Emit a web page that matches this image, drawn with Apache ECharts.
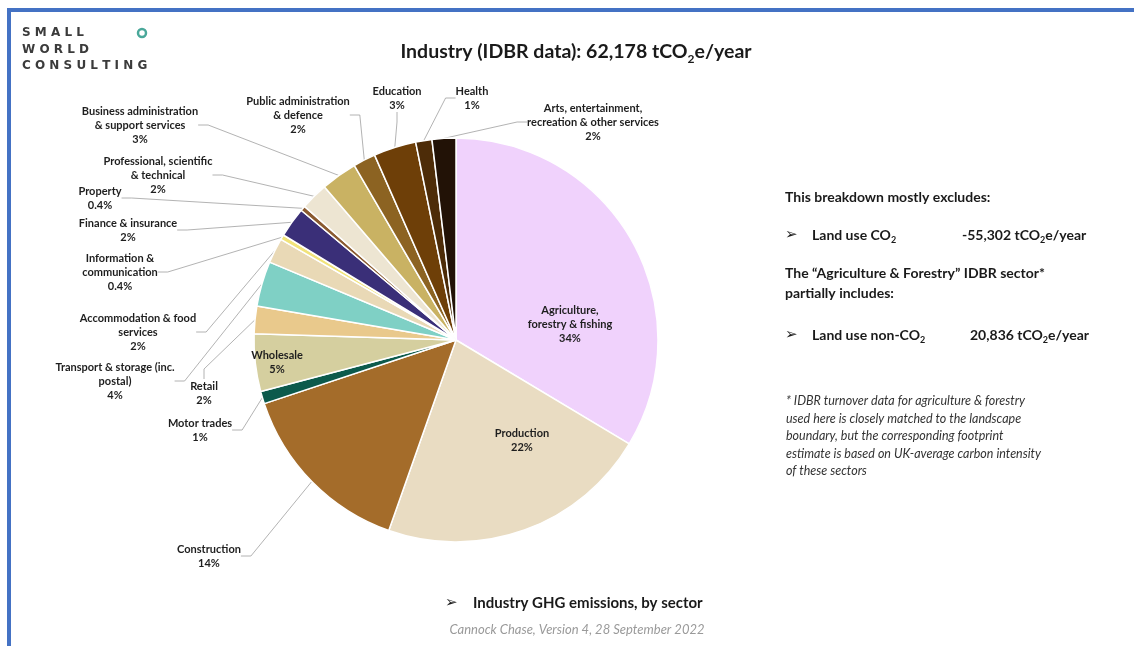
<!DOCTYPE html>
<html>
<head>
<meta charset="utf-8">
<title>Industry GHG emissions, by sector</title>
<script src="https://cdn.jsdelivr.net/npm/echarts@6/dist/echarts.min.js"></script>
<style>
  html, body { margin: 0; padding: 0; background: #fff; }
  #chart { width: 1134px; height: 646px; }
</style>
</head>
<body>
<div id="chart"></div>
<script>
// sectors, clockwise from 12 o'clock
const sectorLabels = [
  "Agriculture,\nforestry & fishing",
  "Production",
  "Construction",
  "Motor trades",
  "Wholesale",
  "Retail",
  "Transport & storage (inc.\npostal)",
  "Accommodation & food\nservices",
  "Information &\ncommunication",
  "Finance & insurance",
  "Property",
  "Professional, scientific\n& technical",
  "Business administration\n& support services",
  "Public administration\n& defence",
  "Education",
  "Health",
  "Arts, entertainment,\nrecreation & other services",
];
// share of 62,178 tCO2e/year, %
const shares = [33.6, 21.8, 14.5, 1.0, 4.6, 2.2, 3.6, 2.0, 0.4, 2.4, 0.4, 2.2, 2.9, 1.8, 3.4, 1.3, 1.9];
const pctLabels = ["34%", "22%", "14%", "1%", "5%", "2%", "4%", "2%", "0.4%", "2%", "0.4%", "2%", "3%", "2%", "3%", "1%", "2%"];

const sliceColors = [
  "#f0d2fc", "#e9dcc2", "#a46c2a", "#0c5a4c", "#d5cf9f", "#e9c98c",
  "#7fd0c5", "#e9d9b6", "#f1e37a", "#3a2f78", "#8a5a30", "#ede5d2",
  "#c9b263", "#8c6322", "#6e3f08", "#4d2c08", "#221206",
];
const insideLabels = [0, 1, 4];
// label centres (px), hand placed like the original slide
const labelAnchors = [
  [570, 324], [522, 440], [209, 556], [200, 430], [277, 362], [204, 393],
  [115, 381], [138, 332], [120, 272], [128, 230], [100, 198], [158, 175],
  [140, 125], [298, 115], [397, 98], [472, 98], [593, 122],
];

const FONT = "Lato, 'DejaVu Sans', sans-serif";
const chart = echarts.init(document.getElementById("chart"));

const subRich = (size) => ({
  t: { fontFamily: FONT, fontWeight: "bold", fontSize: size, lineHeight: size + 6, fill: "#1a1a1a" },
  s: { fontFamily: FONT, fontWeight: "bold", fontSize: Math.round(size * 0.62), lineHeight: size + 6, verticalAlign: "bottom", fill: "#1a1a1a" },
});

function richText(x, y, text, size, extra) {
  return {
    type: "text",
    style: Object.assign({ x, y, text, rich: subRich(size), textVerticalAlign: "middle" }, extra || {}),
  };
}

function plainText(x, y, text, font, fill, align) {
  return {
    type: "text",
    style: { x, y, text, font, fill: fill || "#1a1a1a", textAlign: align || "left", textVerticalAlign: "middle" },
  };
}

const footnote = [
  "* IDBR turnover data for agriculture & forestry",
  "used here is closely matched to the landscape",
  "boundary, but the corresponding footprint",
  "estimate is based on UK-average carbon intensity",
  "of these sectors",
];

const LOGO_FONT = "bold 12px 'DejaVu Sans'";
const ARROW_FONT = "15px 'DejaVu Sans'";

chart.setOption({
  backgroundColor: "#fff",
  animation: false,
  graphic: [
    { type: "rect", shape: { x: 7, y: 8, width: 1127, height: 4 }, style: { fill: "#4472c4" } },
    { type: "rect", shape: { x: 7, y: 8, width: 4, height: 638 }, style: { fill: "#4472c4" } },
    plainText(22, 33, "S M A L L", LOGO_FONT, "#3b3b3b"),
    plainText(22, 50, "W O R L D", LOGO_FONT, "#3b3b3b"),
    plainText(22, 66, "C O N S U L T I N G", LOGO_FONT, "#3b3b3b"),
    { type: "circle", shape: { cx: 142, cy: 33, r: 4 }, style: { fill: "none", stroke: "#4aa89a", lineWidth: 2.5 } },

    richText(576, 52, "{t|Industry (IDBR data): 62,178 tCO}{s|2}{t|e/year}", 19.5, { textAlign: "center" }),

    plainText(785, 197, "This breakdown mostly excludes:", "bold 14px " + FONT),
    plainText(785, 235, "➢", ARROW_FONT),
    richText(812, 235, "{t|Land use CO}{s|2}", 14),
    richText(962, 235, "{t|-55,302 tCO}{s|2}{t|e/year}", 14),
    plainText(785, 273, "The \u201cAgriculture & Forestry\u201d IDBR sector*", "bold 14px " + FONT),
    plainText(785, 293, "partially includes:", "bold 14px " + FONT),
    plainText(785, 335, "➢", ARROW_FONT),
    richText(812, 335, "{t|Land use non-CO}{s|2}", 14),
    richText(970, 335, "{t|20,836 tCO}{s|2}{t|e/year}", 14),
    ...footnote.map((line, i) => plainText(786, 401 + i * 17.6, line, "italic 12.5px " + FONT, "#333")),

    plainText(445, 603, "➢", ARROW_FONT),
    plainText(473, 603, "Industry GHG emissions, by sector", "bold 15px " + FONT),
    plainText(577, 630, "Cannock Chase, Version 4, 28 September 2022", "italic 13px " + FONT, "#9a9a9a", "center"),
  ],
  series: [
    {
      type: "pie",
      center: [456, 340],
      radius: 202,
      startAngle: 90,
      clockwise: true,
      avoidLabelOverlap: false,
      emphasis: { disabled: true },
      itemStyle: { borderColor: "#fff", borderWidth: 1.5 },
      label: {
        show: true,
        formatter: (p) => sectorLabels[p.dataIndex] + "\n" + pctLabels[p.dataIndex],
        fontFamily: FONT,
        fontWeight: "bold",
        fontSize: 11,
        lineHeight: 14,
        color: "#1e1e1e",
        align: "center",
      },
      labelLine: { show: true, length: 10, length2: 10, lineStyle: { color: "#a0a0a0", width: 0.8 } },
      labelLayout: (p) => {
        const a = labelAnchors[p.dataIndex];
        return { x: a[0], y: a[1], align: "center", verticalAlign: "middle" };
      },
      data: shares.map((v, i) => {
        const inside = insideLabels.includes(i);
        return {
          name: sectorLabels[i].replace(/\n/g, " "),
          value: v,
          itemStyle: { color: sliceColors[i] },
          label: inside ? { position: "inside" } : undefined,
          labelLine: inside ? { show: false } : undefined,
        };
      }),
    },
  ],
});
</script>
</body>
</html>
